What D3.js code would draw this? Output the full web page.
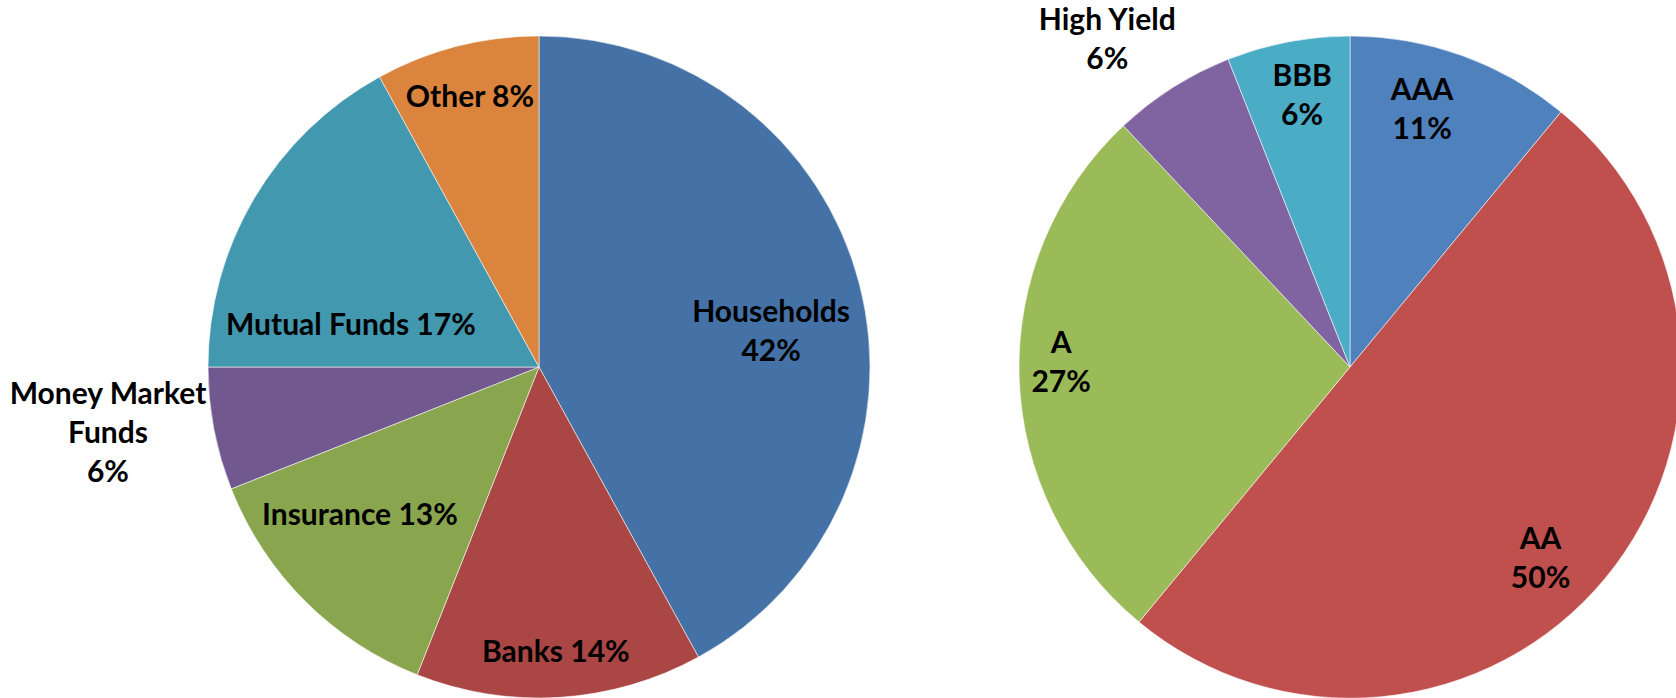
<!DOCTYPE html>
<html>
<head>
<meta charset="utf-8">
<script src="https://cdn.jsdelivr.net/npm/d3@7/dist/d3.min.js"></script>
<style>
  html, body { margin: 0; padding: 0; background: #fff; overflow: hidden; }
  svg { display: block; }
  .lbl { font-family: "Liberation Sans Narrow", "Lato", sans-serif; font-weight: bold; fill: #000; }
</style>
</head>
<body>
<svg id="chart" width="1676" height="698"></svg>
<script>
// Holders (left pie)
const holderNames  = ["Households", "Banks", "Insurance", "Money Market Funds", "Mutual Funds", "Other"];
const holderShares = [42, 14, 13, 6, 17, 8];
const holderColors = ["#4472a6", "#aa4644", "#89a54e", "#71588f", "#4298af", "#db843d"];
const holderLabels = [["Households", "42%"], ["Banks 14%"], ["Insurance 13%"],
                      ["Money Market", "Funds", "6%"], ["Mutual Funds 17%"], ["Other 8%"]];

// Credit quality (right pie)
const ratingNames  = ["AAA", "AA", "A", "High Yield", "BBB"];
const ratingShares = [11, 50, 27, 6, 6];
const ratingColors = ["#4f81bd", "#c0504d", "#9bbb59", "#8064a2", "#4bacc6"];
const ratingLabels = [["AAA", "11%"], ["AA", "50%"], ["A", "27%"], ["High Yield", "6%"], ["BBB", "6%"]];

const svg = d3.select("#chart");
const R = 331;
const lineGap = 39;
const fontSize = 30;

// label anchor per slice: [angle in degrees clockwise from 12 o'clock, distance as fraction of radius]
const holderLabelPos = [[81, 0.71], [176.6, 0.86], [230.6, 0.70], [261.4, 1.317], [282.9, 0.583], [345.7, 0.845]];
const ratingLabelPos = [[15.6, 0.81], [135, 0.814], [271, 0.873], [323.5, 1.233], [350, 0.834]];

function drawPie(cx, cy, shares, colors, labels, labelPos) {
  const g = svg.append("g").attr("transform", `translate(${cx},${cy})`);
  const pie = d3.pie().sort(null).value(d => d);
  const arc = d3.arc().innerRadius(0).outerRadius(R);
  const arcs = pie(shares);

  g.selectAll("path.slice")
    .data(arcs)
    .join("path")
    .attr("class", "slice")
    .attr("d", arc)
    .attr("fill", (d, i) => colors[i])
    .attr("stroke", "#ffffff")
    .attr("stroke-opacity", 0.55)
    .attr("stroke-width", 1);

  const lg = g.selectAll("text.lbl")
    .data(arcs)
    .join("text")
    .attr("class", "lbl")
    .attr("font-size", fontSize)
    .attr("text-anchor", "middle")
    .attr("transform", (d, i) => {
      const a = labelPos[i][0] * Math.PI / 180;
      const r = labelPos[i][1] * R;
      return `translate(${r * Math.sin(a)},${-r * Math.cos(a)})`;
    });

  lg.each(function(d, i) {
    const lines = labels[i];
    const t = d3.select(this);
    lines.forEach((ln, k) => {
      t.append("tspan")
        .attr("x", 0)
        .attr("y", (k - (lines.length - 1) / 2) * lineGap)
        .attr("dy", "0.36em")
        .text(ln);
    });
  });
}

drawPie(539, 367, holderShares, holderColors, holderLabels, holderLabelPos);
drawPie(1350, 367, ratingShares, ratingColors, ratingLabels, ratingLabelPos);
</script>
</body>
</html>
